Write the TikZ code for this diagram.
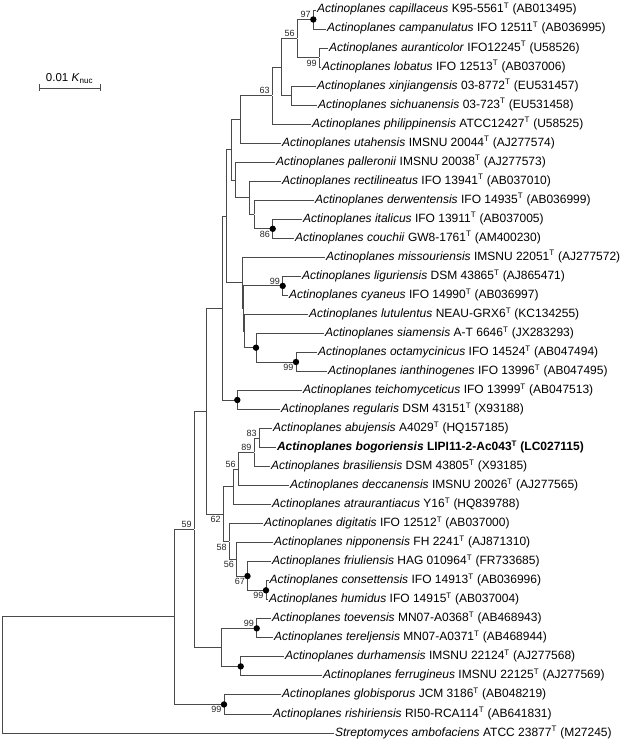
\documentclass[tikz,border=0pt]{standalone}
\usepackage{fontspec}
\setmainfont{Liberation Sans}
\definecolor{treegray}{HTML}{4A4A4A}
\newcommand{\tsup}{\textsuperscript{T}}

\begin{document}
\begin{tikzpicture}[x=1pt, y=-1pt,
  leaf/.style={anchor=west, inner sep=0.8pt, text height=8pt, text depth=2pt,
               font=\fontsize{12}{14}\selectfont},
  jn/.style={inner sep=0pt, minimum size=0pt},
  branch/.style={draw=treegray, line width=0.9pt},
  bsup/.style={anchor=south east, inner sep=0.5pt, xshift=-2pt, yshift=1pt,
               font=\fontsize{9}{10}\selectfont, text=black!85},
  bsdn/.style={anchor=north east, inner sep=0.5pt, xshift=-2pt, yshift=-1.5pt,
               font=\fontsize{9}{10}\selectfont, text=black!85},
  dot/.style={fill=black}
]
\useasboundingbox (0,0) rectangle (625,743);

%% scale bar
\coordinate (sbl) at (39,88);
\coordinate (sbr) at (100,88);
\draw[branch] (sbl) -- (sbr);
\draw[branch] ([yshift=3.5pt]sbl) -- ([yshift=-3.5pt]sbl);
\draw[branch] ([yshift=3.5pt]sbr) -- ([yshift=-3.5pt]sbr);
\node[font=\fontsize{11.5}{13}\selectfont, anchor=south, inner sep=1pt] (sblab) at (69.5,84.5)
  {0.01 \textit{K}\textsubscript{nuc}};

%% leaves
\node[leaf] (capi) at (316,10)    {\textit{Actinoplanes capillaceus} K95-5561\tsup{} (AB013495)};
\node[leaf] (camp) at (326,29)    {\textit{Actinoplanes campanulatus} IFO 12511\tsup{} (AB036995)};
\node[leaf] (aura) at (328,48.1)  {\textit{Actinoplanes auranticolor} IFO12245\tsup{} (U58526)};
\node[leaf] (loba) at (321,67.1)  {\textit{Actinoplanes lobatus} IFO 12513\tsup{} (AB037006)};
\node[leaf] (xinj) at (316,86.1)  {\textit{Actinoplanes xinjiangensis} 03-8772\tsup{} (EU531457)};
\node[leaf] (sich) at (317,105.1) {\textit{Actinoplanes sichuanensis} 03-723\tsup{} (EU531458)};
\node[leaf] (phil) at (311,124.2) {\textit{Actinoplanes philippinensis} ATCC12427\tsup{} (U58525)};
\node[leaf] (utah) at (281,143.2) {\textit{Actinoplanes utahensis} IMSNU 20044\tsup{} (AJ277574)};
\node[leaf] (pall) at (275,162.2) {\textit{Actinoplanes palleronii} IMSNU 20038\tsup{} (AJ277573)};
\node[leaf] (rect) at (281,181.2) {\textit{Actinoplanes rectilineatus} IFO 13941\tsup{} (AB037010)};
\node[leaf] (derw) at (314,200.3) {\textit{Actinoplanes derwentensis} IFO 14935\tsup{} (AB036999)};
\node[leaf] (ital) at (302,219.3) {\textit{Actinoplanes italicus} IFO 13911\tsup{} (AB037005)};
\node[leaf] (couc) at (294,238.3) {\textit{Actinoplanes couchii} GW8-1761\tsup{} (AM400230)};
\node[leaf] (miss) at (325,257.3) {\textit{Actinoplanes missouriensis} IMSNU 22051\tsup{} (AJ277572)};
\node[leaf] (ligu) at (301,276.4) {\textit{Actinoplanes liguriensis} DSM 43865\tsup{} (AJ865471)};
\node[leaf] (cyan) at (288,295.4) {\textit{Actinoplanes cyaneus} IFO 14990\tsup{} (AB036997)};
\node[leaf] (lutu) at (308,314.4) {\textit{Actinoplanes lutulentus} NEAU-GRX6\tsup{} (KC134255)};
\node[leaf] (siam) at (324,333.4) {\textit{Actinoplanes siamensis} A-T 6646\tsup{} (JX283293)};
\node[leaf] (octa) at (317,352.5) {\textit{Actinoplanes octamycinicus} IFO 14524\tsup{} (AB047494)};
\node[leaf] (iant) at (327,371.5) {\textit{Actinoplanes ianthinogenes} IFO 13996\tsup{} (AB047495)};
\node[leaf] (teic) at (302,390.5) {\textit{Actinoplanes teichomyceticus} IFO 13999\tsup{} (AB047513)};
\node[leaf] (regu) at (280,409.5) {\textit{Actinoplanes regularis} DSM 43151\tsup{} (X93188)};
\node[leaf] (abuj) at (272,428.6) {\textit{Actinoplanes abujensis} A4029\tsup{} (HQ157185)};
\node[leaf] (bogo) at (276,447.6) {\textbf{\textit{Actinoplanes bogoriensis} LIPI11-2-Ac043\tsup{} (LC027115)}};
\node[leaf] (bras) at (270,466.6) {\textit{Actinoplanes brasiliensis} DSM 43805\tsup{} (X93185)};
\node[leaf] (decc) at (289,485.7) {\textit{Actinoplanes deccanensis} IMSNU 20026\tsup{} (AJ277565)};
\node[leaf] (atra) at (271,504.7) {\textit{Actinoplanes atraurantiacus} Y16\tsup{} (HQ839788)};
\node[leaf] (digi) at (263,523.7) {\textit{Actinoplanes digitatis} IFO 12512\tsup{} (AB037000)};
\node[leaf] (nipp) at (273,542.7) {\textit{Actinoplanes nipponensis} FH 2241\tsup{} (AJ871310)};
\node[leaf] (friu) at (271,561.8) {\textit{Actinoplanes friuliensis} HAG 010964\tsup{} (FR733685)};
\node[leaf] (cons) at (268.5,580.8) {\textit{Actinoplanes consettensis} IFO 14913\tsup{} (AB036996)};
\node[leaf] (humi) at (268,599.8) {\textit{Actinoplanes humidus} IFO 14915\tsup{} (AB037004)};
\node[leaf] (toev) at (271,618.8) {\textit{Actinoplanes toevensis} MN07-A0368\tsup{} (AB468943)};
\node[leaf] (tere) at (273,637.9) {\textit{Actinoplanes tereljensis} MN07-A0371\tsup{} (AB468944)};
\node[leaf] (durh) at (284,656.9) {\textit{Actinoplanes durhamensis} IMSNU 22124\tsup{} (AJ277568)};
\node[leaf] (ferr) at (322,675.9) {\textit{Actinoplanes ferrugineus} IMSNU 22125\tsup{} (AJ277569)};
\node[leaf] (glob) at (281,694.9) {\textit{Actinoplanes globisporus} JCM 3186\tsup{} (AB048219)};
\node[leaf] (rish) at (272,714)   {\textit{Actinoplanes rishiriensis} RI50-RCA114\tsup{} (AB641831)};
\node[leaf] (stre) at (334,733)   {\textit{Streptomyces ambofaciens} ATCC 23877\tsup{} (M27245)};

%% internal nodes
\node[jn] (n97)   at (313.3,19.5) {};
\node[jn] (n99a)  at (319.3,57.6) {};
\node[jn] (n56a)  at (297.3,38.55) {};
\node[jn] (nxs)   at (291.7,95.6) {};
\node[jn] (ncap)  at (281,67.1) {};
\node[jn] (n63)   at (272.3,95.65) {};
\node[jn] (nuta)  at (240.7,119.4) {};
\node[jn] (n86)   at (272.7,228.8) {};
\node[jn] (nder)  at (254,214.55) {};
\node[jn] (nrec)  at (249.3,197.9) {};
\node[jn] (npal)  at (235.7,180.05) {};
\node[jn] (nupp)  at (231.7,149.7) {};
\node[jn] (n99b)  at (282.7,285.9) {};
\node[jn] (n99c)  at (296,362) {};
\node[jn] (nsia)  at (256,347.7) {};
\node[jn] (nD3)   at (244.5,331.05) {};
\node[jn] (nD2)   at (243.7,308.5) {};
\node[jn] (nD)    at (242.7,282.9) {};
\node[jn] (nB)    at (226.7,216.3) {};
\node[jn] (ntei)  at (237.3,400) {};
\node[jn] (nC)    at (222.7,308.15) {};
\node[jn] (n83)   at (259.3,438.1) {};
\node[jn] (n89)   at (254,452.35) {};
\node[jn] (n56b)  at (238.3,469) {};
\node[jn] (nG)    at (233.3,486.85) {};
\node[jn] (n99d)  at (266,590.3) {};
\node[jn] (n67)   at (247.5,576.05) {};
\node[jn] (n56c)  at (236.7,559.4) {};
\node[jn] (n58)   at (229.3,541.55) {};
\node[jn] (n62)   at (223.3,514.2) {};
\node[jn] (nE)    at (206.7,411.2) {};
\node[jn] (n99e)  at (256.7,628.35) {};
\node[jn] (ndur)  at (240.7,666.4) {};
\node[jn] (nR)    at (221.7,647.4) {};
\node[jn] (nF)    at (194.3,529.3) {};
\node[jn] (n99f)  at (224,704.45) {};
\node[jn] (n59)   at (174.3,616.9) {};
\node[jn] (nroot) at (2,674.95) {};

%% branches
\foreach \p/\c in {n97/capi,n97/camp,n99a/aura,n99a/loba,n56a/n97,n56a/n99a,
    nxs/xinj,nxs/sich,ncap/n56a,ncap/nxs,n63/ncap,n63/phil,nuta/n63,nuta/utah,
    nrec/rect,nrec/nder,nder/derw,nder/n86,n86/ital,n86/couc,npal/pall,npal/nrec,
    nupp/nuta,nupp/npal,nB/nupp,nB/nD,nD/miss,nD/nD2,nD2/n99b,nD2/nD3,
    n99b/ligu,n99b/cyan,nD3/lutu,nD3/nsia,nsia/siam,nsia/n99c,n99c/octa,n99c/iant,
    ntei/teic,ntei/regu,nC/nB,nC/ntei,n83/abuj,n83/bogo,n89/n83,n89/bras,
    n56b/n89,n56b/decc,nG/n56b,nG/atra,n62/nG,n62/n58,n58/digi,n58/n56c,
    n56c/nipp,n56c/n67,n67/friu,n67/n99d,n99d/cons,n99d/humi,nE/nC,nE/n62,
    n99e/toev,n99e/tere,ndur/durh,ndur/ferr,nR/n99e,nR/ndur,nF/nE,nF/nR,
    n99f/glob,n99f/rish,n59/nF,n59/n99f,nroot/n59,nroot/stre}
  \draw[branch] (\p) |- (\c.west);

%% supported nodes
\foreach \n in {n97,n86,n99b,nsia,n99c,ntei,n67,n99d,n99e,ndur,n99f}
  \fill[dot] (\n) circle (3.2pt);

%% bootstrap values
\foreach \n/\v in {n97/97,n56a/56,n63/63,n99b/99,n83/83,n89/89,n56b/56,n99e/99,nF/59}
  \node[bsup] at (\n) {\v};
\foreach \n/\v in {n99a/99,n86/86,n99c/99,n62/62,n58/58,n56c/56,n67/67,n99d/99,n99f/99}
  \node[bsdn] at (\n) {\v};

\end{tikzpicture}
\end{document}
